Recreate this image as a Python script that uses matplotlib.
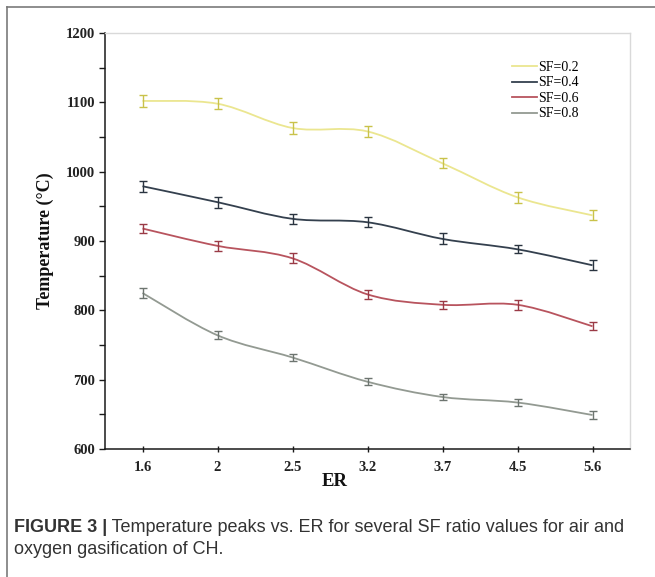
import matplotlib
matplotlib.use("Agg")
import matplotlib.pyplot as plt
from matplotlib.lines import Line2D
from matplotlib.path import Path
from matplotlib.patches import PathPatch
from matplotlib.ticker import MultipleLocator

er_labels = ["1.6", "2", "2.5", "3.2", "3.7", "4.5", "5.6"]
sf_labels = ["SF=0.2", "SF=0.4", "SF=0.6", "SF=0.8"]
sf02 = [1102, 1098, 1063, 1058, 1012, 963, 937]
sf04 = [979, 956, 932, 927, 903, 888, 865]
sf06 = [918, 893, 875, 823, 808, 808, 777]
sf08 = [825, 764, 732, 697, 675, 667, 649]
err02 = [9, 8, 8, 8, 7, 8, 7]
err04 = [8, 8, 7, 7, 8, 6, 7]
err06 = [7, 7, 7, 7, 6, 7, 6]
err08 = [7, 6, 5, 5, 5, 5, 6]

line_colors = ["#ebe690", "#34404e", "#b8545e", "#939a92"]
err_colors = ["#c9c24a", "#2a3440", "#9a3a46", "#6d7570"]


def smooth_path(xs, ys):
    """Excel-like smoothed line: cubic Bezier segments through the data points."""
    n = len(xs)
    verts = [(xs[0], ys[0])]
    codes = [Path.MOVETO]
    for i in range(n - 1):
        x0, y0 = (xs[i - 1], ys[i - 1]) if i > 0 else (xs[i], ys[i])
        x3, y3 = (xs[i + 2], ys[i + 2]) if i + 2 < n else (xs[i + 1], ys[i + 1])
        c1 = (xs[i] + (xs[i + 1] - x0) / 6, ys[i] + (ys[i + 1] - y0) / 6)
        c2 = (xs[i + 1] - (x3 - xs[i]) / 6, ys[i + 1] - (y3 - ys[i]) / 6)
        verts += [c1, c2, (xs[i + 1], ys[i + 1])]
        codes += [Path.CURVE4] * 3
    return Path(verts, codes)


W, H = 655, 577
fig = plt.figure(figsize=(W / 100, H / 100), dpi=100)

# outer frame (top + left)
fig.add_artist(Line2D([7 / W, 1.0], [1 - 7 / H, 1 - 7 / H], color="#7a7a7a", lw=1.2))
fig.add_artist(Line2D([7 / W, 7 / W], [0, 1 - 7 / H], color="#7a7a7a", lw=1.2))

ax = fig.add_axes([105 / W, 1 - 449 / H, (630 - 105) / W, (449 - 33) / H])
x = list(range(len(er_labels)))
series = [sf02, sf04, sf06, sf08]
errs = [err02, err04, err06, err08]
handles = []
for vals, e, lc, ec, lab in zip(series, errs, line_colors, err_colors, sf_labels):
    ax.add_patch(PathPatch(smooth_path(x, vals), fill=False, edgecolor=lc, lw=1.3, zorder=2))
    ax.errorbar(x, vals, yerr=e, fmt="none", ecolor=ec, elinewidth=1.0,
                capsize=3, capthick=1.0, zorder=3)
    handles.append(Line2D([], [], color=lc, lw=1.3, label=lab))

ax.set_xlim(-0.5, len(er_labels) - 0.5)
ax.set_ylim(600, 1200)
ax.set_xticks(x)
ax.set_xticklabels(er_labels)
ax.yaxis.set_major_locator(MultipleLocator(100))
ax.yaxis.set_minor_locator(MultipleLocator(50))

serif = "Liberation Serif"
for sp in ["top", "right"]:
    ax.spines[sp].set_color("#d9d9d9")
    ax.spines[sp].set_linewidth(1.0)
for sp in ["left", "bottom"]:
    ax.spines[sp].set_color("#1a1a1a")
    ax.spines[sp].set_linewidth(1.1)

ax.tick_params(axis="y", which="major", direction="out", length=4, width=1, colors="#1a1a1a", pad=3)
ax.tick_params(axis="y", which="minor", direction="out", length=4, width=1, colors="#1a1a1a")
ax.tick_params(axis="x", which="major", direction="inout", length=5, width=1, colors="#1a1a1a", pad=6)
for t in ax.get_xticklabels() + ax.get_yticklabels():
    t.set_fontfamily(serif)
    t.set_fontweight("bold")
    t.set_fontsize(10.5)
    t.set_color("#222222")

ax.set_xlabel("ER", fontfamily=serif, fontweight="bold", fontsize=13.5, color="#111111")
ax.xaxis.set_label_coords(0.438, -0.058)
ax.set_ylabel("Temperature (°C)", fontfamily=serif, fontweight="bold", fontsize=13, color="#111111")
ax.yaxis.set_label_coords(-0.097, 0.5)

leg = ax.legend(handles=handles, loc="upper left", bbox_to_anchor=((512 - 105) / 525, 0.933),
                frameon=False, prop={"family": serif, "size": 10}, handlelength=1.8,
                handletextpad=0.05, labelspacing=0.18, borderpad=0, borderaxespad=0)

# caption
cap_font = "Liberation Sans"
cap_size = 13
y1 = 1 - 528 / H
y2 = 1 - 549 / H
tb = fig.text(14 / W, y1, "FIGURE 3 |", fontfamily=cap_font, fontweight="bold",
              fontsize=cap_size, color="#333333", va="center", ha="left")
fig.canvas.draw()
bb = tb.get_window_extent(renderer=fig.canvas.get_renderer())
fig.text(bb.x1 / W, y1, " Temperature peaks vs. ER for several SF ratio values for air and",
         fontfamily=cap_font, fontsize=cap_size, color="#333333", va="center", ha="left")
fig.text(14 / W, y2, "oxygen gasification of CH.", fontfamily=cap_font,
         fontsize=cap_size, color="#333333", va="center", ha="left")

fig.savefig("out.png", dpi=100)
